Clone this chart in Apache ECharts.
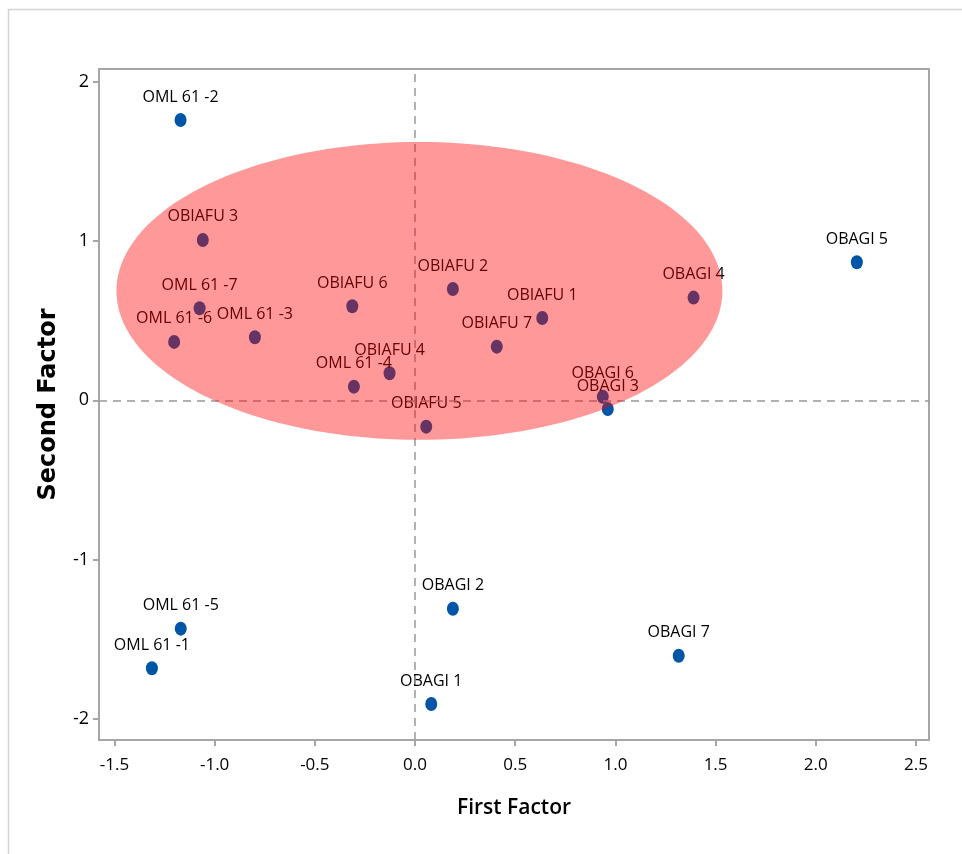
<!DOCTYPE html>
<html>
<head>
<meta charset="utf-8">
<script src="https://cdn.jsdelivr.net/npm/echarts@6/dist/echarts.min.js"></script>
<style>html,body{margin:0;padding:0;background:#fff;}#chart{width:962px;height:854px;}</style>
</head>
<body>
<div id="chart"></div>
<script>
// ---- data ----
const pointNames = ['OML 61 -2','OBIAFU 3','OML 61 -7','OML 61 -6','OML 61 -3','OBIAFU 6','OBIAFU 4','OML 61 -4','OBIAFU 5','OBIAFU 2','OBIAFU 1','OBIAFU 7','OBAGI 4','OBAGI 6','OBAGI 3','OBAGI 5','OBAGI 2','OML 61 -5','OML 61 -1','OBAGI 1','OBAGI 7'];
const firstFactor = [-1.170,-1.059,-1.075,-1.202,-0.799,-0.313,-0.127,-0.305,0.056,0.189,0.635,0.408,1.390,0.937,0.962,2.205,0.189,-1.169,-1.313,0.081,1.316];
const secondFactor = [1.760,1.007,0.578,0.367,0.396,0.591,0.170,0.086,-0.165,0.699,0.517,0.337,0.645,0.023,-0.054,0.867,-1.308,-1.433,-1.682,-1.906,-1.603];
const xTicks = [-1.5,-1.0,-0.5,0.0,0.5,1.0,1.5,2.0,2.5];
const yTicks = [-2,-1,0,1,2];
// confidence ellipse: center x, center y, radius x, radius y (data units)
const ellipseParams = [0.022, 0.687, 1.512, 0.935];

const chart = echarts.init(document.getElementById('chart'));
const axisColor = '#a6a6a6';
const option = {
  backgroundColor: '#fff',
  animation: false,
  graphic: [{
    type: 'rect', shape: {x: 8.5, y: 9.5, width: 1000, height: 900},
    style: {fill: 'none', stroke: '#d4d4d4', lineWidth: 1.5}, z: 0, silent: true
  }],
  grid: {left: 99, right: 33, top: 69, bottom: 114, show: true, borderColor: axisColor, borderWidth: 2, backgroundColor: 'transparent'},
  xAxis: {
    type: 'value', min: -1.577, max: 2.565,
    name: 'First Factor', nameLocation: 'middle', nameGap: 58,
    nameTextStyle: {fontFamily: 'Open Sans', fontWeight: 600, fontSize: 21, color: '#000'},
    splitLine: {show: false},
    axisLine: {show: true, onZero: false, lineStyle: {color: axisColor, width: 2}},
    axisTick: {show: true, inside: false, length: 6, lineStyle: {color: axisColor, width: 2}, customValues: xTicks},
    axisLabel: {customValues: xTicks, margin: 17, fontFamily: 'Open Sans', fontSize: 17, color: '#000', formatter: v => v.toFixed(1)}
  },
  yAxis: {
    type: 'value', min: -2.132, max: 2.080,
    name: 'Second Factor', nameLocation: 'middle', nameGap: 38, nameRotate: 90,
    nameTextStyle: {fontFamily: 'DejaVu Sans', fontWeight: 'bold', fontSize: 24, color: '#000'},
    splitLine: {show: false},
    axisLine: {show: true, onZero: false, lineStyle: {color: axisColor, width: 2}},
    axisTick: {show: true, inside: false, length: 6, lineStyle: {color: axisColor, width: 2}, customValues: yTicks},
    axisLabel: {customValues: yTicks, margin: 10, fontFamily: 'Open Sans', fontSize: 18, color: '#000', formatter: v => String(Math.round(v))}
  },
  series: [
    {
      type: 'scatter', z: 2,
      data: firstFactor.map((x, i) => ({value: [x, secondFactor[i]], name: pointNames[i]})),
      symbol: 'circle', symbolSize: [12, 14],
      itemStyle: {color: '#0055a6', opacity: 1},
      label: {show: true, position: 'top', distance: 8, formatter: p => p.name, fontFamily: 'Open Sans', fontSize: 16, color: '#000'},
      markLine: {
        silent: true, symbol: 'none', label: {show: false},
        lineStyle: {color: '#999', type: [8, 6], width: 1.5, opacity: 1},
        data: [{xAxis: 0}, {yAxis: 0}]
      }
    },
    {
      type: 'custom', z: 10, silent: true,
      data: [ellipseParams],
      renderItem: function (params, api) {
        const c = api.coord([api.value(0), api.value(1)]);
        const s = api.size([api.value(2), api.value(3)]);
        const pts = [];
        for (let k = 0; k < 180; k++) {
          const t = k / 180 * Math.PI * 2;
          pts.push([c[0] + s[0] * Math.cos(t), c[1] + s[1] * Math.sin(t)]);
        }
        return {type: 'polygon', shape: {points: pts}, style: {fill: 'rgba(255,0,0,0.4)', stroke: 'none'}};
      }
    }
  ]
};
chart.setOption(option);
</script>
</body>
</html>
